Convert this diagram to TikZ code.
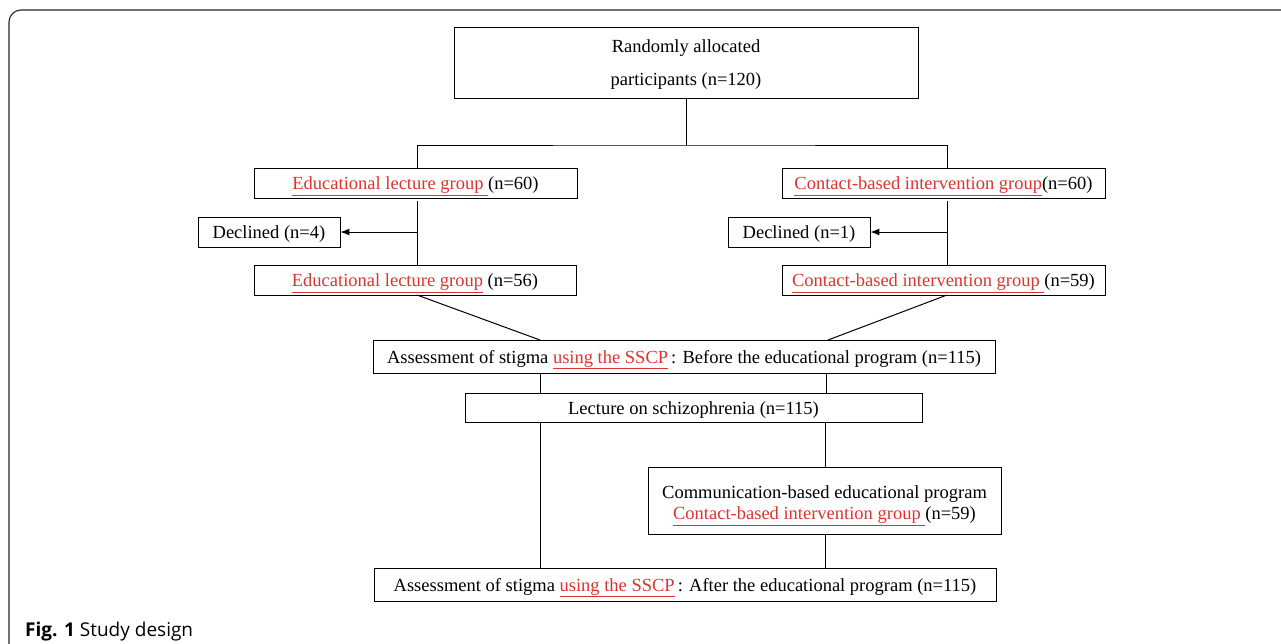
\documentclass[tikz,border=0pt]{standalone}
\usepackage{fontspec}
\setmainfont{Liberation Serif}
\newfontfamily\capfont{Open Sans}
\usetikzlibrary{arrows.meta}
\definecolor{refred}{RGB}{222,52,48}
\newcommand{\rl}[1]{{\color{refred}\underline{#1\vphantom{gp}}}}
\begin{document}
\begin{tikzpicture}[x=1pt,y=-1pt,
  box/.style={draw,line width=0.8pt,inner sep=0pt,align=center,font=\fontsize{18.5}{21}\selectfont},
  onebox/.style={box,text height=17pt,text depth=4pt},
  conn/.style={line width=1pt},
  arr/.style={line width=1pt,-{Latex[length=9pt,width=7pt]}}]
\useasboundingbox (0,0) rectangle (1281,643);
\fill[white] (0,0) rectangle (1281,643);
% frame
\draw[line width=1.1pt,black!85,rounded corners=12pt] (9,650) -- (9,10) -- (1290,10);
% nodes
\node[box,minimum width=464pt,minimum height=71pt,text height=46pt,text depth=0pt,font=\fontsize{18.5}{33}\selectfont] (top) at (686,62.5) {Randomly allocated\\participants (n=120)};
\node[onebox,minimum width=323pt,minimum height=30pt] (ea) at (415.5,183) {\rl{Educational lecture group }(n=60)};
\node[onebox,minimum width=323pt,minimum height=30pt] (ca) at (943.5,183) {\rl{Contact-based intervention group}(n=60)};
\node[onebox,minimum width=142pt,minimum height=30pt] (dl) at (269,232) {Declined (n=4)};
\node[onebox,minimum width=142pt,minimum height=30pt] (dr) at (799,232) {Declined (n=1)};
\node[onebox,minimum width=322pt,minimum height=30pt] (eb) at (415,280) {\rl{Educational lecture group} (n=56)};
\node[onebox,minimum width=323pt,minimum height=30pt] (cb) at (943.5,280) {\rl{Contact-based intervention group }(n=59)};
\node[onebox,minimum width=622pt,minimum height=33pt] (s1) at (684,356.5) {Assessment of stigma \rl{using the SSCP}\,: Before the educational program (n=115)};
\node[onebox,minimum width=457pt,minimum height=29pt] (lec) at (693.5,407.5) {Lecture on schizophrenia (n=115)};
\node[box,minimum width=353pt,minimum height=67pt,text height=38pt,text depth=0pt,font=\fontsize{18.5}{21}\selectfont] (com) at (824.5,500.5) {Communication-based educational program\\\rl{Contact-based intervention group }(n=59)};
\node[onebox,minimum width=622pt,minimum height=33pt] (s2) at (685,584.5) {Assessment of stigma \rl{using the SSCP}\,: After the educational program (n=115)};
% connectors
\coordinate (split) at (686,145);
\draw[conn] (top.south) -- (split);
\draw[conn] (417,168) |- (split) -| (947,168);
\draw[conn] (417,201) -- (417,265);
\draw[conn] (947,201) -- (947,265);
\draw[arr] (417,232) -- (dl.east);
\draw[arr] (947,232) -- (dr.east);
\draw[conn] (417,295) -- (540,340);
\draw[conn] (947,295) -- (828,340);
\draw[conn] (540,373) -- (540,393);
\draw[conn] (826,373) -- (826,393);
\draw[conn] (540,422) -- (540,568);
\draw[conn] (825,422) -- (825,467);
\draw[conn] (825,534) -- (825,568);
% caption
\node[anchor=base west,inner sep=0pt,font=\capfont\fontsize{19}{22}\selectfont] (cap) at (25,636) {\textbf{Fig. 1} Study design};
\end{tikzpicture}
\end{document}
